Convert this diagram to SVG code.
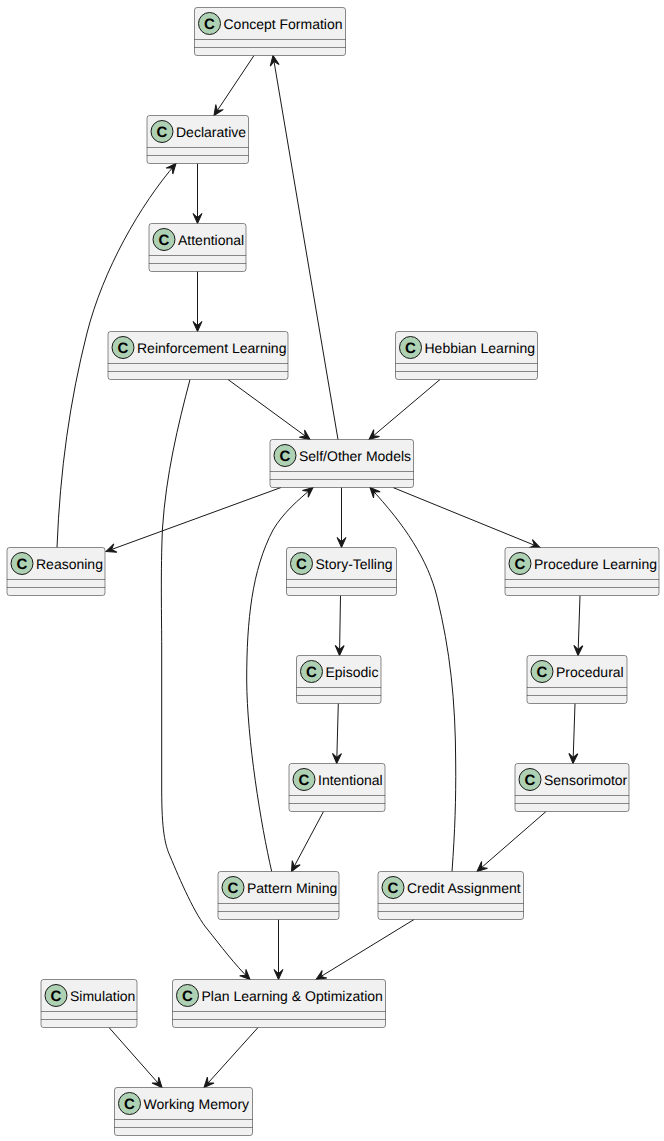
<svg xmlns="http://www.w3.org/2000/svg" width="664" height="1141" viewBox="0 0 664 1141">
<style>
.b{fill:#F1F1F1;stroke:#181818;stroke-width:.5}
.d{stroke:#181818;stroke-width:.5;fill:none}
.c{fill:#ADD1B2;stroke:#181818;stroke-width:1}
.g{font:bold 15px "Liberation Sans",Arial,sans-serif;fill:#000;text-anchor:middle;text-rendering:geometricPrecision}
.t{font:14px "Liberation Sans",Arial,sans-serif;fill:#000;text-rendering:geometricPrecision}
#edges path{fill:none;stroke:#181818;stroke-width:1;marker-end:url(#a)}
</style>
<defs>
<marker id="a" markerUnits="userSpaceOnUse" markerWidth="12" markerHeight="12" refX="10" refY="6" orient="auto" overflow="visible"><path d="M10,6L0,1.5L4,6L0,10.5Z" fill="#181818" stroke="#181818" stroke-width="1"/></marker>
<g id="n"><circle class="c" cx="15" cy="16" r="11"/><text class="g" x="15" y="21.3">C</text></g>
</defs>
<rect width="664" height="1141" fill="#fff"/>
<g id="edges">
<path d="M254,55.5L214,115.5"/>
<path d="M197.5,163.5L197.5,223.5"/>
<path d="M197.5,271.5L197.5,331.5"/>
<path d="M228,379.5L310,439.5"/>
<path d="M440,379.5L369,439.5"/>
<path d="M338,439.5L273,55.5"/>
<path d="M281,487.5L106,551.5"/>
<path d="M341.5,487.5L341.5,547.5"/>
<path d="M393,487.5L540,547.5"/>
<path d="M57,547.5C60,470 70,400 87,333C103,270 140,205 176,163.5"/>
<path d="M190,379.5C178,425 166,475 162.5,528C160.5,570 161.7,620 161.7,647L161.7,790C161.7,830 165,845 170,856C180,880 195,915 208,930C220,945 235,965 250,979.5"/>
<path d="M340.5,595.5L339.5,655.5"/>
<path d="M338.3,703.5L336.7,763.5"/>
<path d="M323.5,811.5L291.5,871.5"/>
<path d="M271.7,871.5C261,825 247,740 246.7,680C246.7,620 252,570 273,530C283,513 298,500 313,487.5"/>
<path d="M278.5,919.5L278.5,979.5"/>
<path d="M452,871.5C455,830 456,800 455.7,763C455.5,700 450,650 437,597C428,560 405,525 370,487.5"/>
<path d="M414,919.5L316,979.5"/>
<path d="M580,595.5L578,655.5"/>
<path d="M575,703.5L573,763.5"/>
<path d="M546,811.5L477,871.5"/>
<path d="M109,1027.5L162,1087.5"/>
<path d="M258,1027.5L204,1087.5"/>
</g>
<g id="concept-formation" transform="translate(194.5,7.5)"><rect class="b" width="151" height="48" rx="2.5"/><path class="d" d="M0,32H151M0,40H151"/><use href="#n"/><text class="t" x="29" y="21.5">Concept Formation</text></g>
<g id="declarative" transform="translate(147,115.5)"><rect class="b" width="101.5" height="48" rx="2.5"/><path class="d" d="M0,32H101.5M0,40H101.5"/><use href="#n"/><text class="t" x="29" y="21.5">Declarative</text></g>
<g id="attentional" transform="translate(149,223.5)"><rect class="b" width="97" height="48" rx="2.5"/><path class="d" d="M0,32H97M0,40H97"/><use href="#n"/><text class="t" x="29" y="21.5">Attentional</text></g>
<g id="reinforcement-learning" transform="translate(108,331.5)"><rect class="b" width="180" height="48" rx="2.5"/><path class="d" d="M0,32H180M0,40H180"/><use href="#n"/><text class="t" x="29" y="21.5">Reinforcement Learning</text></g>
<g id="hebbian-learning" transform="translate(395.5,331.5)"><rect class="b" width="142" height="48" rx="2.5"/><path class="d" d="M0,32H142M0,40H142"/><use href="#n"/><text class="t" x="29" y="21.5">Hebbian Learning</text></g>
<g id="self-other-models" transform="translate(270,439.5)"><rect class="b" width="143.5" height="48" rx="2.5"/><path class="d" d="M0,32H143.5M0,40H143.5"/><use href="#n"/><text class="t" x="29" y="21.5">Self/Other Models</text></g>
<g id="reasoning" transform="translate(7,547.5)"><rect class="b" width="98" height="48" rx="2.5"/><path class="d" d="M0,32H98M0,40H98"/><use href="#n"/><text class="t" x="29" y="21.5">Reasoning</text></g>
<g id="story-telling" transform="translate(286.5,547.5)"><rect class="b" width="110" height="48" rx="2.5"/><path class="d" d="M0,32H110M0,40H110"/><use href="#n"/><text class="t" x="29" y="21.5">Story-Telling</text></g>
<g id="procedure-learning" transform="translate(505,547.5)"><rect class="b" width="154" height="48" rx="2.5"/><path class="d" d="M0,32H154M0,40H154"/><use href="#n"/><text class="t" x="29" y="21.5">Procedure Learning</text></g>
<g id="episodic" transform="translate(296.5,655.5)"><rect class="b" width="84.5" height="48" rx="2.5"/><path class="d" d="M0,32H84.5M0,40H84.5"/><use href="#n"/><text class="t" x="29" y="21.5">Episodic</text></g>
<g id="procedural" transform="translate(527,655.5)"><rect class="b" width="100" height="48" rx="2.5"/><path class="d" d="M0,32H100M0,40H100"/><use href="#n"/><text class="t" x="29" y="21.5">Procedural</text></g>
<g id="intentional" transform="translate(289,763.5)"><rect class="b" width="96" height="48" rx="2.5"/><path class="d" d="M0,32H96M0,40H96"/><use href="#n"/><text class="t" x="29" y="21.5">Intentional</text></g>
<g id="sensorimotor" transform="translate(515,763.5)"><rect class="b" width="114" height="48" rx="2.5"/><path class="d" d="M0,32H114M0,40H114"/><use href="#n"/><text class="t" x="29" y="21.5">Sensorimotor</text></g>
<g id="pattern-mining" transform="translate(218,871.5)"><rect class="b" width="121" height="48" rx="2.5"/><path class="d" d="M0,32H121M0,40H121"/><use href="#n"/><text class="t" x="29" y="21.5">Pattern Mining</text></g>
<g id="credit-assignment" transform="translate(378,871.5)"><rect class="b" width="145.5" height="48" rx="2.5"/><path class="d" d="M0,32H145.5M0,40H145.5"/><use href="#n"/><text class="t" x="29" y="21.5">Credit Assignment</text></g>
<g id="simulation" transform="translate(41,979.5)"><rect class="b" width="96" height="48" rx="2.5"/><path class="d" d="M0,32H96M0,40H96"/><use href="#n"/><text class="t" x="29" y="21.5">Simulation</text></g>
<g id="plan-learning" transform="translate(172.5,979.5)"><rect class="b" width="213" height="48" rx="2.5"/><path class="d" d="M0,32H213M0,40H213"/><use href="#n"/><text class="t" x="29" y="21.5">Plan Learning &amp; Optimization</text></g>
<g id="working-memory" transform="translate(114.5,1087.5)"><rect class="b" width="138" height="48" rx="2.5"/><path class="d" d="M0,32H138M0,40H138"/><use href="#n"/><text class="t" x="29" y="21.5">Working Memory</text></g>
</svg>
